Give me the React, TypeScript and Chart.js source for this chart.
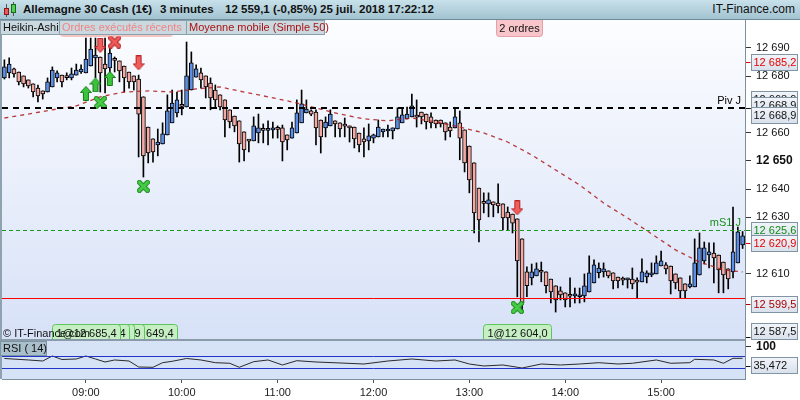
import { useEffect, useRef } from "react";
import { Chart, registerables } from "chart.js";

Chart.register(...registerables);

const FONT = '"Liberation Sans", Arial, sans-serif';

// 3 minute Heikin-Ashi candles, 08:09 -> 15:51
const timeLabels: string[] = [];
for (let m = 8 * 60 + 9; m <= 15 * 60 + 51; m += 3) {
  timeLabels.push(String(Math.floor(m / 60)).padStart(2, "0") + ":" + String(m % 60).padStart(2, "0"));
}

const openPrices = [
  12679.4, 12681.2, 12682.6, 12681.5, 12680.1, 12678.7, 12677.3, 12675.8, 12674.8, 12674.4,
  12676.2, 12679.4, 12680.4, 12679.7, 12679.4, 12680.4, 12681.5, 12681.2, 12683.6, 12686.5,
  12686.8, 12684.3, 12682.9, 12685.8, 12685.4, 12683.6, 12681.5, 12680.1, 12679.0, 12672.7,
  12662.0, 12657.8, 12655.7, 12656.0, 12659.2, 12663.5, 12667.0, 12669.5, 12669.1, 12675.1,
  12679.7, 12681.2, 12680.1, 12677.6, 12675.1, 12673.4, 12671.6, 12668.1, 12665.9, 12664.2,
  12660.3, 12657.1, 12657.1, 12659.9, 12661.0, 12660.8, 12661.0, 12661.3, 12661.7, 12659.2,
  12658.1, 12659.9, 12663.5, 12667.0, 12667.7, 12667.3, 12664.5, 12661.7, 12662.4, 12664.2,
  12663.5, 12662.4, 12662.4, 12662.0, 12659.9, 12657.8, 12657.1, 12658.1, 12658.5, 12660.3,
  12660.6, 12660.6, 12661.3, 12663.5, 12664.9, 12665.6, 12665.6, 12667.3, 12666.6, 12665.6,
  12664.5, 12664.5, 12663.5, 12662.0, 12661.7, 12663.5, 12661.0, 12655.3, 12649.3, 12640.4,
  12635.1, 12634.8, 12635.5, 12635.1, 12634.8, 12631.9, 12631.2, 12629.5, 12622.4, 12610.7,
  12608.6, 12609.3, 12610.7, 12610.7, 12608.2, 12605.8, 12604.0, 12603.3, 12602.2, 12602.2,
  12601.9, 12602.2, 12603.6, 12606.8, 12610.4, 12610.7, 12611.1, 12610.4, 12608.9, 12607.9,
  12607.9, 12608.2, 12607.2, 12607.2, 12608.9, 12609.6, 12610.0, 12612.8, 12613.2, 12612.8,
  12610.0, 12608.6, 12606.5, 12605.4, 12605.4, 12609.6, 12614.6, 12616.7, 12617.4, 12616.7,
  12614.2, 12611.8, 12610.7, 12613.9, 12620.3,
];
const highPrices = [
  12685.8, 12686.5, 12682.9, 12681.5, 12680.1, 12678.7, 12677.3, 12676.9, 12674.8, 12679.4,
  12683.3, 12681.9, 12680.4, 12681.2, 12682.9, 12684.3, 12684.0, 12693.5, 12693.5, 12693.5,
  12686.8, 12693.5, 12690.0, 12686.8, 12685.4, 12683.6, 12681.5, 12680.1, 12680.4, 12672.7,
  12662.0, 12657.8, 12661.3, 12663.5, 12673.4, 12675.1, 12674.4, 12675.1, 12692.1, 12688.6,
  12684.0, 12682.9, 12680.1, 12679.4, 12676.9, 12673.4, 12671.6, 12668.1, 12665.9, 12664.2,
  12660.3, 12657.5, 12665.6, 12666.6, 12663.1, 12664.2, 12663.8, 12662.4, 12662.7, 12659.2,
  12663.8, 12671.6, 12675.1, 12671.6, 12668.1, 12668.1, 12664.5, 12665.6, 12668.1, 12664.2,
  12663.5, 12665.2, 12662.4, 12662.0, 12659.9, 12661.7, 12663.1, 12659.5, 12664.5, 12661.3,
  12662.7, 12661.7, 12668.8, 12668.8, 12669.1, 12673.7, 12671.6, 12667.3, 12666.6, 12667.0,
  12664.5, 12664.5, 12663.5, 12663.8, 12668.8, 12667.7, 12661.0, 12655.3, 12649.3, 12640.4,
  12638.7, 12638.7, 12635.5, 12641.9, 12634.8, 12633.7, 12631.2, 12629.5, 12622.4, 12612.5,
  12613.5, 12613.9, 12614.2, 12610.7, 12608.2, 12605.8, 12605.4, 12603.3, 12608.6, 12605.0,
  12605.0, 12610.0, 12616.4, 12615.0, 12613.9, 12613.9, 12611.1, 12610.4, 12608.9, 12608.9,
  12608.5, 12612.1, 12608.6, 12615.3, 12611.1, 12613.9, 12616.4, 12618.1, 12614.0, 12612.8,
  12610.0, 12608.6, 12606.5, 12609.3, 12622.4, 12624.5, 12621.3, 12621.0, 12621.0, 12616.7,
  12614.2, 12611.8, 12633.7, 12626.6, 12625.0,
];
const lowPrices = [
  12679.0, 12679.4, 12679.7, 12676.9, 12676.2, 12675.8, 12672.7, 12670.9, 12671.9, 12674.4,
  12676.2, 12678.0, 12676.2, 12678.7, 12678.7, 12680.4, 12681.0, 12681.2, 12683.6, 12679.4,
  12674.4, 12674.1, 12678.0, 12681.5, 12678.0, 12674.4, 12675.8, 12675.1, 12651.4, 12644.3,
  12649.3, 12649.6, 12651.8, 12656.0, 12659.2, 12663.5, 12665.6, 12666.3, 12669.1, 12675.1,
  12679.7, 12675.8, 12672.3, 12668.1, 12669.1, 12668.1, 12658.5, 12661.7, 12660.3, 12649.6,
  12650.0, 12653.2, 12657.1, 12656.4, 12656.4, 12655.7, 12658.1, 12658.1, 12650.0, 12653.9,
  12658.1, 12659.9, 12663.5, 12667.0, 12666.0, 12655.7, 12652.8, 12658.5, 12662.4, 12658.5,
  12658.5, 12658.5, 12656.7, 12654.6, 12653.2, 12651.4, 12653.9, 12656.4, 12658.5, 12658.5,
  12658.5, 12657.8, 12661.3, 12663.5, 12664.9, 12665.6, 12662.0, 12663.1, 12661.3, 12661.7,
  12661.7, 12662.0, 12657.4, 12658.5, 12661.7, 12650.4, 12646.1, 12638.7, 12624.5, 12621.3,
  12631.6, 12630.2, 12630.2, 12631.6, 12625.6, 12625.6, 12624.5, 12601.9, 12596.2, 12601.9,
  12606.1, 12609.3, 12607.2, 12603.3, 12599.7, 12596.5, 12600.8, 12598.3, 12598.3, 12599.7,
  12599.7, 12600.1, 12603.6, 12606.8, 12608.6, 12608.9, 12608.6, 12604.7, 12605.0, 12606.1,
  12605.0, 12604.7, 12601.5, 12607.2, 12606.8, 12609.0, 12610.0, 12612.8, 12610.0, 12602.9,
  12604.7, 12601.5, 12601.5, 12605.0, 12605.4, 12609.6, 12613.5, 12612.1, 12606.8, 12603.3,
  12603.3, 12604.7, 12608.6, 12613.9, 12619.0,
];
const closePrices = [
  12683.3, 12684.3, 12680.8, 12678.0, 12677.3, 12676.6, 12674.4, 12673.0, 12673.7, 12678.0,
  12682.2, 12681.2, 12678.0, 12679.5, 12680.8, 12682.2, 12682.5, 12686.1, 12689.6, 12687.5,
  12681.2, 12682.6, 12688.2, 12685.6, 12681.9, 12679.4, 12678.0, 12678.0, 12666.6, 12651.8,
  12652.8, 12653.2, 12656.7, 12659.6, 12667.7, 12670.5, 12671.6, 12669.3, 12680.1, 12684.7,
  12682.6, 12678.7, 12676.2, 12672.3, 12671.6, 12669.1, 12664.5, 12663.8, 12662.4, 12656.0,
  12653.9, 12657.0, 12662.4, 12661.7, 12660.8, 12661.0, 12661.7, 12661.2, 12656.7, 12657.4,
  12661.7, 12667.0, 12670.2, 12668.4, 12666.6, 12661.7, 12658.5, 12663.8, 12666.6, 12663.1,
  12661.3, 12662.3, 12661.7, 12657.8, 12655.7, 12656.7, 12658.9, 12659.2, 12662.0, 12661.3,
  12660.7, 12661.7, 12665.6, 12666.3, 12666.6, 12669.5, 12665.5, 12665.6, 12663.8, 12663.5,
  12663.1, 12663.1, 12660.3, 12660.6, 12665.6, 12658.1, 12649.3, 12643.3, 12631.6, 12629.1,
  12635.0, 12636.2, 12634.4, 12634.1, 12629.8, 12629.8, 12628.0, 12614.6, 12599.7, 12605.8,
  12610.7, 12611.8, 12610.6, 12605.8, 12603.6, 12600.8, 12602.6, 12600.8, 12602.1, 12602.3,
  12602.6, 12605.8, 12610.4, 12613.2, 12612.1, 12611.8, 12609.3, 12607.5, 12607.5, 12607.8,
  12608.0, 12606.5, 12607.1, 12610.7, 12610.4, 12610.4, 12613.9, 12614.6, 12611.8, 12607.5,
  12606.8, 12604.0, 12604.0, 12606.5, 12613.9, 12619.2, 12619.2, 12617.8, 12615.7, 12611.4,
  12609.6, 12608.2, 12617.8, 12624.9, 12623.5,
];

// moving average (simple 50), read every 5 candles
const maIndex = [0, 5, 10, 15, 20, 25, 30, 35, 40, 45, 50, 55, 60, 65, 70, 75, 80, 85, 90, 95, 100, 105, 110, 115, 120, 125, 130, 135, 140, 145, 150, 154];
const maValues = [
  12665.2, 12666.6, 12668.1, 12669.5, 12672.7, 12674.4, 12674.8, 12674.4, 12675.5, 12676.2,
  12674.4, 12672.7, 12670.9, 12668.8, 12666.6, 12664.9, 12664.2, 12665.2, 12663.8, 12662.0,
  12659.9, 12656.7, 12652.1, 12646.8, 12641.5, 12635.1, 12629.8, 12624.2, 12618.5, 12614.2,
  12611.4, 12610.7,
];

// RSI(14)
const rsiIndex = [0, 5, 8, 10, 12, 15, 17, 19, 21, 23, 26, 28, 31, 33, 35, 38, 41, 44, 47, 49, 52, 55, 58, 61, 65, 70, 75, 80, 85, 90, 94, 97, 100, 104, 108, 112, 116, 120, 124, 128, 131, 136, 139, 143, 144, 148, 150, 152, 154];
const rsiValues = [
  61.7, 56.7, 53.3, 70, 58.3, 60, 70, 60, 50, 56.7,
  53.3, 33.3, 32.3, 47.7, 52.3, 61.7, 56.7, 47.7, 45.7, 32.3,
  51, 56.7, 40, 54.3, 50, 46.7, 43.3, 53.3, 60, 53.3,
  56.7, 43.3, 36.7, 40, 30, 43.3, 40, 43.3, 47.7, 43.3,
  45.7, 56.7, 45.7, 47.7, 59, 56.7, 45.7, 62.3, 62.3,
];
const rsiBands = [70, 30];
const lastRsi = 35.472;

const priceTicks = [12610, 12630, 12640, 12650, 12660, 12680, 12690];
const boldTick = 12650;

const pivotLevel = 12668.9;
const supportLevel = 12625.6;
const lowLine = 12601.5;

const priceTags = [
  { value: 12685.2, color: "#e60000" },
  { value: 12625.6, color: "#138a1a" },
  { value: 12620.9, color: "#e60000" },
  { value: 12599.5, color: "#a80000" },
  { value: 12587.5, color: "#111111" },
];

const buyArrows = [
  { i: 17, price: 12673.9 },
  { i: 19, price: 12676.9 },
  { i: 22, price: 12679.2 },
];
const sellArrows = [
  { i: 20, price: 12690.9 },
  { i: 28, price: 12684.7 },
  { i: 107, price: 12633.4 },
];
const redCrosses = [{ i: 23, price: 12692.1 }];
const greenCrosses = [
  { i: 20, price: 12670.7 },
  { i: 29, price: 12641.0 },
  { i: 107, price: 12598.1 },
];

const orderTags = [
  { i: 17, text: "1@12 685,4" },
  { i: 19, text: "1@12 687,4" },
  { i: 20, text: "1@12 686,1" },
  { i: 22, text: "1@12 681,9" },
  { i: 29, text: "1@12 649,4" },
  { i: 107, text: "1@12 604,0" },
];

const BLUE = "#5b8fe8";
const PINK = "#f5a9a2";

function fmtPrice(v: number, decimals = 0) {
  const s = v.toFixed(decimals).replace(".", ",");
  return s.slice(0, 2) + " " + s.slice(2);
}

function makeArrow(up: boolean, fill: string, stroke: string) {
  const c = document.createElement("canvas");
  c.width = 12;
  c.height = 15;
  const g = c.getContext("2d")!;
  const pts = [[6, 0.5], [11.5, 6.5], [8.5, 6.5], [8.5, 14.5], [3.5, 14.5], [3.5, 6.5], [0.5, 6.5]];
  g.beginPath();
  pts.forEach(([px, py], k) => {
    const yy = up ? py : 15 - py;
    if (k) g.lineTo(px, yy);
    else g.moveTo(px, yy);
  });
  g.closePath();
  g.fillStyle = fill;
  g.fill();
  g.strokeStyle = stroke;
  g.lineWidth = 1;
  g.stroke();
  return c;
}

function makeCross(fill: string, stroke: string) {
  const c = document.createElement("canvas");
  c.width = 13;
  c.height = 13;
  const g = c.getContext("2d")!;
  const diag = () => {
    g.beginPath();
    g.moveTo(2.5, 2.5);
    g.lineTo(10.5, 10.5);
    g.moveTo(10.5, 2.5);
    g.lineTo(2.5, 10.5);
    g.stroke();
  };
  g.lineCap = "square";
  g.strokeStyle = stroke;
  g.lineWidth = 5;
  diag();
  g.strokeStyle = fill;
  g.lineWidth = 3;
  diag();
  return c;
}

function drawPriceTag(ctx: CanvasRenderingContext2D, axisX: number, yc: number, tickY: number, text: string, color: string) {
  const left = axisX + 6.5;
  const w = 46;
  const h = 16;
  const top = Math.round(yc - h / 2) + 0.5;
  const g = ctx.createLinearGradient(0, top, 0, top + h);
  g.addColorStop(0, "#f2f5fa");
  g.addColorStop(1, "#d8e0eb");
  ctx.fillStyle = g;
  ctx.fillRect(left, top, w, h);
  ctx.strokeStyle = "#7f95a6";
  ctx.lineWidth = 1;
  ctx.strokeRect(left, top, w, h);
  ctx.strokeStyle = color;
  ctx.beginPath();
  ctx.moveTo(axisX + 1, Math.round(tickY) + 0.5);
  ctx.lineTo(left - 1, Math.round(tickY) + 0.5);
  ctx.stroke();
  ctx.fillStyle = color;
  ctx.font = `11px ${FONT}`;
  ctx.textAlign = "left";
  ctx.textBaseline = "middle";
  ctx.fillText(text, left + 2, top + h / 2 + 0.5);
}

const paneDecor: any = {
  id: "paneDecor",
  beforeDraw(chart: any) {
    const { ctx, chartArea } = chart;
    const y = chart.scales.y;
    const yr = chart.scales.yr;
    ctx.save();
    ctx.fillStyle = "#ffffff";
    ctx.fillRect(0, 0, chart.width, chart.height);
    const g = ctx.createLinearGradient(0, y.top, 0, y.bottom);
    g.addColorStop(0, "#fcfdff");
    g.addColorStop(1, "#d7e1f7");
    ctx.fillStyle = g;
    ctx.fillRect(chartArea.left, y.top, chartArea.right - chartArea.left, y.bottom - y.top);
    ctx.fillStyle = "#d6e2f6";
    ctx.fillRect(chartArea.left, yr.top, chartArea.right - chartArea.left, yr.bottom - yr.top);
    ctx.fillStyle = "#8fa2b0";
    ctx.fillRect(0, y.top, 2, yr.bottom - y.top);
    ctx.restore();
  },
  afterDatasetsDraw(chart: any) {
    const { ctx, chartArea } = chart;
    const y = chart.scales.y;
    const yr = chart.scales.yr;
    const hline = (py: number, color: string, width: number, dash: number[]) => {
      ctx.beginPath();
      ctx.setLineDash(dash);
      ctx.strokeStyle = color;
      ctx.lineWidth = width;
      ctx.moveTo(chartArea.left, py);
      ctx.lineTo(chartArea.right, py);
      ctx.stroke();
    };
    ctx.save();
    ctx.beginPath();
    ctx.rect(chartArea.left, chartArea.top, chartArea.right - chartArea.left, chartArea.bottom - chartArea.top);
    ctx.clip();
    hline(Math.round(y.getPixelForValue(pivotLevel)), "#000000", 2, [6, 5]);
    hline(Math.round(y.getPixelForValue(supportLevel)) + 0.5, "#1a9a1a", 1, [4, 3]);
    hline(Math.round(y.getPixelForValue(lowLine)) + 0.5, "#ff0000", 1, []);
    rsiBands.forEach((b) => hline(Math.round(yr.getPixelForValue(b)) + 0.5, "#2233c8", 1, []));
    ctx.restore();
  },
  afterDraw(chart: any) {
    const { ctx, chartArea } = chart;
    const x = chart.scales.x;
    const y = chart.scales.y;
    const yr = chart.scales.yr;
    const axisX = chartArea.right;
    ctx.save();

    // level captions
    ctx.font = `11px ${FONT}`;
    ctx.textAlign = "right";
    ctx.textBaseline = "alphabetic";
    ctx.fillStyle = "#000";
    ctx.fillText("Piv J", axisX - 4, y.getPixelForValue(pivotLevel) - 4);
    ctx.fillStyle = "#1a8f1a";
    ctx.fillText("mS1 J", axisX - 4, y.getPixelForValue(supportLevel) - 4);

    // order tags (earliest on top)
    ctx.textAlign = "left";
    for (let k = orderTags.length - 1; k >= 0; k--) {
      const t = orderTags[k];
      const cx = x.getPixelForValue(t.i);
      const w = Math.round(ctx.measureText(t.text).width) + 8;
      const left = Math.round(cx - w / 2) + 0.5;
      const top = y.bottom - 15.5;
      const bottom = y.bottom + 0.5;
      ctx.beginPath();
      ctx.moveTo(left, bottom);
      ctx.lineTo(left, top + 3);
      ctx.quadraticCurveTo(left, top, left + 3, top);
      ctx.lineTo(left + w - 3, top);
      ctx.quadraticCurveTo(left + w, top, left + w, top + 3);
      ctx.lineTo(left + w, bottom);
      ctx.fillStyle = "#c6f0c4";
      ctx.fill();
      ctx.strokeStyle = "#5cc65a";
      ctx.lineWidth = 1;
      ctx.stroke();
      ctx.fillStyle = "#111";
      ctx.fillText(t.text, left + 4, bottom - 4);
    }
    ctx.fillStyle = "#111";
    ctx.fillText("\u00a9 IT-Finance.com", 3, y.bottom - 3);

    // pane separator
    ctx.fillStyle = "#8a9caa";
    ctx.fillRect(0, y.bottom - 1, axisX, 2);

    // RSI caption
    ctx.fillStyle = "#a9bfcb";
    ctx.fillRect(0.5, yr.top + 1.5, 46, 14);
    ctx.strokeStyle = "#7d95a3";
    ctx.strokeRect(0.5, yr.top + 1.5, 46, 14);
    ctx.fillStyle = "#111";
    ctx.fillText("RSI ( 14)", 3, yr.top + 12);

    // price tags on right axis
    const py = y.getPixelForValue(pivotLevel);
    [py - 9, py - 3, py + 7].forEach((c) => drawPriceTag(ctx, axisX, c, py, fmtPrice(pivotLevel, 1), "#111"));
    priceTags.forEach((t) => {
      const ty = y.getPixelForValue(t.value);
      drawPriceTag(ctx, axisX, Math.min(ty, y.bottom - 9), Math.min(ty, y.bottom - 2), fmtPrice(t.value, 1), t.color);
    });
    const ry = yr.getPixelForValue(lastRsi);
    drawPriceTag(ctx, axisX, ry - 1, ry, lastRsi.toFixed(3).replace(".", ","), "#111");
    ctx.restore();
  },
};

export default function App() {
  const canvasRef = useRef<HTMLCanvasElement>(null);

  useEffect(() => {
    const canvas = canvasRef.current;
    if (!canvas) return;

    const upArrow = makeArrow(true, "#39c43a", "#177a1a");
    const downArrow = makeArrow(false, "#ef5d5d", "#b82222");
    const greenCross = makeCross("#46cc46", "#1f8a1f");
    const redCross = makeCross("#ee5a5a", "#b52222");

    const markerSet = (points: { i: number; price: number }[], style: HTMLCanvasElement) => ({
      type: "line" as const,
      data: points.map((p) => ({ x: timeLabels[p.i], y: p.price })),
      showLine: false,
      pointStyle: style,
      pointRadius: 6,
      pointHoverRadius: 6,
      yAxisID: "y",
      order: 0,
    });

    const chart = new Chart(canvas, {
      type: "bar",
      data: {
        labels: timeLabels,
        datasets: [
          {
            type: "bar",
            label: "bodies",
            data: openPrices.map((o, i) => [o, closePrices[i]]),
            backgroundColor: openPrices.map((o, i) => (closePrices[i] >= o ? BLUE : PINK)),
            borderColor: "#000",
            borderWidth: 1,
            borderSkipped: false,
            barThickness: 4,
            minBarLength: 2,
            grouped: false,
            yAxisID: "y",
            order: 2,
          },
          {
            type: "bar",
            label: "wicks",
            data: lowPrices.map((l, i) => [l, highPrices[i]]),
            backgroundColor: "#000",
            borderWidth: 0,
            barThickness: 1,
            grouped: false,
            yAxisID: "y",
            order: 3,
          },
          {
            type: "line",
            label: "Moyenne mobile",
            data: maIndex.map((idx, k) => ({ x: timeLabels[idx], y: maValues[k] })),
            borderColor: "rgba(175, 25, 25, 0.85)",
            borderWidth: 1.3,
            borderDash: [4, 4],
            pointRadius: 0,
            yAxisID: "y",
            order: 1,
          },
          {
            type: "line",
            label: "RSI",
            data: rsiIndex.map((idx, k) => ({ x: timeLabels[idx], y: rsiValues[k] })),
            borderColor: "#2a2a2a",
            borderWidth: 1,
            pointRadius: 0,
            yAxisID: "yr",
            order: 1,
          },
          markerSet(buyArrows, upArrow),
          markerSet(sellArrows, downArrow),
          markerSet(greenCrosses, greenCross),
          markerSet(redCrosses, redCross),
        ] as any,
      },
      options: {
        animation: false,
        responsive: false,
        events: [],
        layout: { autoPadding: false, padding: { top: 20, left: 2, right: 0, bottom: 0 } },
        plugins: { legend: { display: false }, tooltip: { enabled: false } },
        scales: {
          x: {
            type: "category",
            offset: true,
            afterBuildTicks: (s: any) => {
              s.ticks = s.ticks.filter((t: any) => timeLabels[t.value].endsWith(":00"));
            },
            afterFit: (s: any) => {
              s.height = 21;
              s.paddingLeft = 0;
              s.paddingRight = 0;
            },
            ticks: {
              autoSkip: false,
              maxRotation: 0,
              padding: 3,
              color: "#222",
              font: { family: FONT, size: 11 },
              callback: (v: any) => timeLabels[v],
            },
            grid: { drawOnChartArea: false, offset: false, tickLength: 4, color: "#555" },
            border: { color: "#7e8f9c" },
          },
          y: {
            type: "linear",
            position: "right",
            stack: "panes",
            stackWeight: 320,
            min: 12586.6,
            max: 12699.9,
            afterBuildTicks: (s: any) => {
              s.ticks = priceTicks.map((v) => ({ value: v }));
            },
            afterFit: (s: any) => {
              s.width = 55;
              s.paddingTop = 0;
              s.paddingBottom = 0;
            },
            ticks: {
              autoSkip: false,
              padding: 5,
              color: "#111",
              font: (c: any) =>
                c.tick && c.tick.value === boldTick
                  ? { family: FONT, size: 12, weight: "bold" }
                  : { family: FONT, size: 11 },
              callback: (v: any) => fmtPrice(Number(v)),
            },
            grid: { drawOnChartArea: false, tickLength: 6, color: "#333" },
            border: { color: "#7e8f9c" },
          },
          yr: {
            type: "linear",
            position: "right",
            stack: "panes",
            stackWeight: 39,
            min: -6.7,
            max: 123.3,
            afterBuildTicks: (s: any) => {
              s.ticks = [{ value: 100 }];
            },
            afterFit: (s: any) => {
              s.width = 55;
              s.paddingTop = 0;
              s.paddingBottom = 0;
            },
            ticks: {
              padding: 5,
              color: "#111",
              font: { family: FONT, size: 12, weight: "bold" },
              callback: (v: any) => String(v),
            },
            grid: { drawOnChartArea: false, tickLength: 6, color: "#333" },
            border: { color: "#7e8f9c" },
          },
        },
      } as any,
      plugins: [paneDecor],
    });

    return () => {
      chart.destroy();
    };
  }, []);

  const tab = (left: number, width: number, color: string, text: string) => (
    <div
      style={{
        position: "absolute",
        left,
        top: 20,
        width,
        height: 15,
        boxSizing: "border-box",
        background: "#cad8e0",
        border: "1px solid #8aa0ad",
        color,
        font: `11px ${FONT}`,
        lineHeight: "13px",
        paddingLeft: 2,
        whiteSpace: "nowrap",
      }}
    >
      {text}
    </div>
  );

  return (
    <div style={{ position: "fixed", left: 0, top: 0, width: 800, height: 400, overflow: "hidden", background: "#fff" }}>
      <canvas ref={canvasRef} width={800} height={400} style={{ position: "absolute", left: 0, top: 0 }} />
      <div
        style={{
          position: "absolute",
          left: 0,
          top: 0,
          width: 800,
          height: 20,
          boxSizing: "border-box",
          background: "linear-gradient(#c8e1eb, #a2c3d0)",
          borderBottom: "1px solid #6d8b98",
          color: "#111",
          font: `bold 11.5px ${FONT}`,
          lineHeight: "19px",
          whiteSpace: "nowrap",
        }}
      >
        <div style={{ position: "absolute", left: 6, top: 4, width: 1, height: 13, background: "#555" }} />
        <div style={{ position: "absolute", left: 4, top: 8, width: 5, height: 7, boxSizing: "border-box", background: "#e95b5b", border: "1px solid #8a1a1a" }} />
        <div style={{ position: "absolute", left: 13, top: 2, width: 1, height: 14, background: "#555" }} />
        <div style={{ position: "absolute", left: 11, top: 4, width: 5, height: 9, boxSizing: "border-box", background: "#4fd04f", border: "1px solid #166a16" }} />
        <span style={{ position: "absolute", left: 23 }}>Allemagne 30 Cash (1€)</span>
        <span style={{ position: "absolute", left: 160 }}>3 minutes</span>
        <span style={{ position: "absolute", left: 225 }}>12 559,1 (-0,85%)</span>
        <span style={{ position: "absolute", left: 320 }}>25 juil. 2018 17:22:12</span>
        <span style={{ position: "absolute", right: 5, fontWeight: "normal", fontSize: 12 }}>IT-Finance.com</span>
      </div>
      <div style={{ position: "absolute", left: 60, top: 30, width: 113, height: 7, borderRadius: 4, background: "rgba(242, 150, 150, 0.55)" }} />
      {tab(0, 60, "#111", "Heikin-Ashi")}
      {tab(59, 128, "#f08585", "Ordres exécutés récents")}
      {tab(186, 139, "#a81414", "Moyenne mobile (Simple 50)")}
      <div
        style={{
          position: "absolute",
          left: 496,
          top: 20,
          width: 47,
          height: 17,
          boxSizing: "border-box",
          background: "#f8c5cb",
          border: "1px solid #e6a0a8",
          borderTop: "none",
          borderRadius: "0 0 4px 4px",
          color: "#111",
          font: `11px ${FONT}`,
          lineHeight: "16px",
          textAlign: "center",
        }}
      >
        2 ordres
      </div>
    </div>
  );
}
